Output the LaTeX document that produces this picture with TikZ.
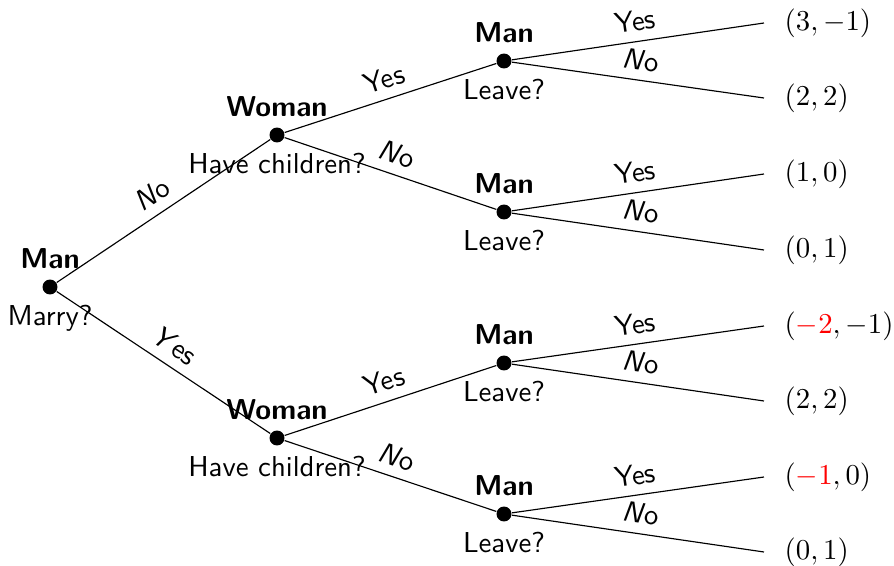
\documentclass[tikz,border=0pt]{standalone}
\usepackage{xcolor}
\begin{document}
\begin{tikzpicture}[x=0.3472pt,y=-0.3472pt,
  every node/.style={font=\sffamily},
  dec/.style={circle,fill=black,inner sep=0pt,minimum size=5.2pt},
  who/.style={font=\sffamily\bfseries},
  lab/.style={above,sloped,midway},
  pay/.style={anchor=west,inner xsep=7pt,font=\rmfamily},
  edge/.style={line width=0.4pt}]
\useasboundingbox (0,0) rectangle (894,566);
% decision nodes
\node[dec,label={[who]above:Man},label={below:Marry?}] (r) at (50,287) {};
\node[dec,label={[who]above:Woman},label={below:Have children?}] (w1) at (277,135) {};
\node[dec,label={[who]above:Woman},label={below:Have children?}] (w2) at (277,438) {};
\node[dec,label={[who]above:Man},label={below:Leave?}] (m1) at (504,61) {};
\node[dec,label={[who]above:Man},label={below:Leave?}] (m2) at (504,212) {};
\node[dec,label={[who]above:Man},label={below:Leave?}] (m3) at (504,363) {};
\node[dec,label={[who]above:Man},label={below:Leave?}] (m4) at (504,514) {};
% payoffs
\node[pay] (p1) at (764,23) {$(3,-1)$};
\node[pay] (p2) at (764,98) {$(2,2)$};
\node[pay] (p3) at (764,174) {$(1,0)$};
\node[pay] (p4) at (764,250) {$(0,1)$};
\node[pay] (p5) at (764,326) {$(\textcolor{red}{-2},-1)$};
\node[pay] (p6) at (764,401) {$(2,2)$};
\node[pay] (p7) at (764,477) {$(\textcolor{red}{-1},0)$};
\node[pay] (p8) at (764,552) {$(0,1)$};
% edges
\draw[edge] (r) -- node[lab]{\textit{N}o} (w1);
\draw[edge] (r) -- node[lab]{\textit{Y}es} (w2);
\draw[edge] (w1) -- node[lab]{Yes} (m1);
\draw[edge] (w1) -- node[lab]{\textit{N}o} (m2);
\draw[edge] (w2) -- node[lab]{Yes} (m3);
\draw[edge] (w2) -- node[lab]{\textit{N}o} (m4);
\draw[edge] (m1) -- node[lab]{Yes} (p1.west);
\draw[edge] (m1) -- node[lab]{\textit{N}o} (p2.west);
\draw[edge] (m2) -- node[lab]{Yes} (p3.west);
\draw[edge] (m2) -- node[lab]{\textit{N}o} (p4.west);
\draw[edge] (m3) -- node[lab]{Yes} (p5.west);
\draw[edge] (m3) -- node[lab]{\textit{N}o} (p6.west);
\draw[edge] (m4) -- node[lab]{Yes} (p7.west);
\draw[edge] (m4) -- node[lab]{\textit{N}o} (p8.west);
\end{tikzpicture}
\end{document}
